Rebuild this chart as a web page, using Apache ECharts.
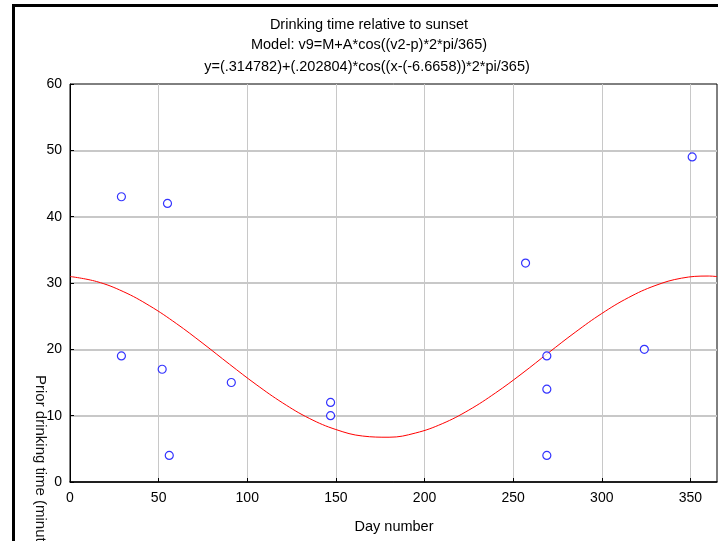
<!DOCTYPE html>
<html>
<head>
<meta charset="utf-8">
<script src="https://cdn.jsdelivr.net/npm/echarts@6/dist/echarts.min.js"></script>
<style>
  html, body { margin: 0; padding: 0; background: #fff; }
  #chart { width: 718px; height: 541px; }
</style>
</head>
<body>
<div id="chart"></div>
<script>
// Observed drinking times (minutes before sunset) by day of year
const obsDays   = [29, 55, 29, 52, 56, 91, 147, 147, 257, 269, 269, 269, 324, 351];
const obsValues = [43, 42, 19, 17, 4, 15, 12, 10, 33, 19, 14, 4, 20, 49];

// Fitted seasonal curve, sampled every 15 days (minutes)
const fitDays   = [0, 15, 30, 45, 60, 75, 90, 105, 120, 135, 150, 165, 180, 195, 210, 225, 240, 255, 270, 285, 300, 315, 330, 345, 360, 365];
const fitValues = [30.98, 30.22, 28.71, 26.55, 23.89, 20.89, 17.75, 14.70, 11.92, 9.59, 7.91, 6.93, 6.75, 7.39, 8.79, 10.84, 13.42, 16.35, 19.49, 22.57, 25.40, 27.79, 29.60, 30.73, 31.05, 30.97];

const titleLines = [
  'Drinking time relative to sunset',
  'Model: v9=M+A*cos((v2-p)*2*pi/365)',
  'y=(.314782)+(.202804)*cos((x-(-6.6658))*2*pi/365)'
];

const FONT = '"Liberation Sans", Arial, sans-serif';
const TITLE_FONT = '14.5px ' + FONT;

const chart = echarts.init(document.getElementById('chart'), null, { renderer: 'canvas' });

chart.setOption({
  backgroundColor: '#ffffff',
  animation: false,
  graphic: [
    // outer frame (left and top edges)
    { type: 'line', shape: { x1: 13.5, y1: 5, x2: 13.5, y2: 541 }, style: { stroke: '#000', lineWidth: 3 } },
    { type: 'line', shape: { x1: 12, y1: 5.5, x2: 718, y2: 5.5 }, style: { stroke: '#000', lineWidth: 3 } },
    // title lines
    { type: 'text', x: 369, y: 25, style: { text: titleLines[0], fill: '#000', font: TITLE_FONT, textAlign: 'center', textVerticalAlign: 'middle' } },
    { type: 'text', x: 369, y: 45, style: { text: titleLines[1], fill: '#000', font: TITLE_FONT, textAlign: 'center', textVerticalAlign: 'middle' } },
    { type: 'text', x: 367, y: 67, style: { text: titleLines[2], fill: '#000', font: TITLE_FONT, textAlign: 'center', textVerticalAlign: 'middle' } },
    // y axis title, reading downward
    { type: 'text', x: 40, y: 375, rotation: -Math.PI / 2,
      style: { text: 'Prior drinking time (minutes)', fill: '#111', font: '15px ' + FONT, textAlign: 'left', textVerticalAlign: 'middle' } },
    // x axis title
    { type: 'text', x: 394, y: 527, style: { text: 'Day number', fill: '#000', font: TITLE_FONT, textAlign: 'center', textVerticalAlign: 'middle' } }
  ],
  grid: { left: 70, right: 1, top: 84, bottom: 59, show: true, borderColor: '#000', borderWidth: 1, backgroundColor: 'transparent' },
  xAxis: {
    type: 'value', min: 0, max: 365, interval: 50,
    axisLine: { show: true, onZero: false, lineStyle: { color: '#000', width: 1.5 } },
    axisTick: { show: true, inside: true, length: 4, lineStyle: { color: '#000' } },
    axisLabel: { color: '#000', fontSize: 14, fontFamily: FONT, margin: 9, showMaxLabel: false },
    splitLine: { show: true, showMinLine: false, showMaxLine: false, lineStyle: { color: '#c8c8c8', width: 1 } }
  },
  yAxis: {
    type: 'value', min: 0, max: 60, interval: 10,
    axisLine: { show: true, onZero: false, lineStyle: { color: '#000', width: 1 } },
    axisTick: { show: true, inside: true, length: 4, lineStyle: { color: '#000' } },
    axisLabel: { color: '#000', fontSize: 14, fontFamily: FONT, margin: 8 },
    splitLine: { show: true, showMinLine: false, showMaxLine: false, lineStyle: { color: '#c8c8c8', width: 2 } }
  },
  series: [
    {
      type: 'line',
      data: fitDays.map((d, i) => [d, fitValues[i]]),
      smooth: 0.4,
      symbol: 'none',
      lineStyle: { color: '#ff0000', width: 1 },
      z: 3
    },
    {
      type: 'scatter',
      data: obsDays.map((d, i) => [d, obsValues[i]]),
      symbol: 'circle',
      symbolSize: 8,
      itemStyle: { color: '#ffffff', borderColor: '#0000ff', borderWidth: 1.2 },
      z: 4
    }
  ]
});
</script>
</body>
</html>
